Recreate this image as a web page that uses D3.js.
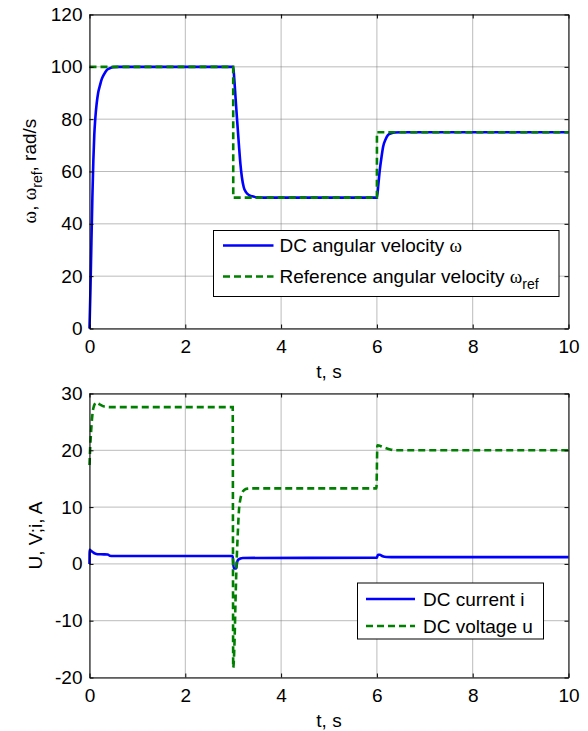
<!DOCTYPE html>
<html>
<head>
<meta charset="utf-8">
<script src="https://cdn.jsdelivr.net/npm/d3@7"></script>
<style>
  body { margin: 0; background: #fff; }
  svg text { font-family: "Liberation Sans", Arial, sans-serif; fill: #000; }
</style>
</head>
<body>
<div id="chart"></div>
<script>
// shared time axis
const timeTicks = [0, 2, 4, 6, 8, 10]

// top panel: angular velocity (rad/s)
const omegaTicks = [0, 20, 40, 60, 80, 100, 120]
const omegaTime = [0, 0.02, 0.04, 0.06, 0.08, 0.1, 0.12, 0.15, 0.18, 0.22, 0.25, 0.3, 0.36, 0.42, 0.5, 0.6, 0.8,
                   3.0, 3.02, 3.05, 3.08, 3.12, 3.15, 3.18, 3.22, 3.27, 3.33, 3.4, 3.5, 3.6,
                   6.0, 6.03, 6.06, 6.1, 6.13, 6.18, 6.23, 6.3, 6.37, 6.5, 10]
const omegaValues = [0, 15, 33, 50, 64, 74, 80, 86, 90, 93, 95, 97, 98.7, 99.4, 99.9, 100, 100,
                     100, 96, 88, 80, 70, 63, 58, 54, 52, 51, 50.5, 50.1, 50,
                     50, 55, 60.5, 66, 69.5, 72.2, 73.9, 74.6, 74.9, 75, 75]
const refTime = [0, 3, 3.001, 6, 6.001, 10]
const refValues = [100, 100, 50, 50, 75, 75]

// bottom panel: current (A) and voltage (V)
const elecTicks = [-20, -10, 0, 10, 20, 30]
const currentTime = [0, 0.003, 0.04, 0.08, 0.12, 0.17, 0.3, 0.38, 0.42, 0.5, 2.99,
                     3.01, 3.06, 3.08, 3.1, 3.15, 3.2, 6.0, 6.02, 6.06, 6.12, 6.2, 6.3, 10]
const currentValues = [0, 2.5, 2.25, 2.0, 1.8, 1.7, 1.68, 1.65, 1.45, 1.4, 1.4,
                       -0.75, -0.8, 0.2, 0.7, 0.95, 1.05, 1.07, 1.6, 1.6, 1.35, 1.22, 1.2, 1.2]
const voltageTime = [0, 0.015, 0.035, 0.055, 0.08, 0.14, 0.21, 0.31, 0.42, 2.99,
                     3.0, 3.03, 3.05, 3.07, 3.09, 3.12, 3.15, 3.18, 3.23, 3.3, 3.4, 5.99,
                     6.01, 6.12, 6.26, 6.4, 10]
const voltageValues = [17.4, 20.6, 23.5, 25.8, 27.4, 28.4, 28.1, 27.7, 27.6, 27.6,
                       -18.3, -13, -6, 0, 4.2, 9.4, 11.4, 12.4, 13.0, 13.25, 13.3, 13.3,
                       20.9, 20.6, 20.2, 20.0, 20.0]

const W = 588, H = 731
const fontSize = 19
const blue = "#0000ff", green = "#008000"

const svg = d3.select("#chart").append("svg")
  .attr("width", W)
  .attr("height", H)

function drawPanel(opts) {
  const g = svg.append("g").attr("transform", `translate(${opts.left},${opts.top})`)
  const x = d3.scaleLinear().domain([0, 10]).range([0, opts.w])
  const y = d3.scaleLinear().domain(opts.yDomain).range([opts.h, 0])

  // dotted grid
  g.append("g").selectAll("line").data(timeTicks).join("line")
    .attr("x1", d => x(d)).attr("x2", d => x(d))
    .attr("y1", 0).attr("y2", opts.h)
    .attr("stroke", "#777").attr("stroke-width", 1).attr("stroke-dasharray", "1,1")
  g.append("g").selectAll("line").data(opts.yTicks).join("line")
    .attr("x1", 0).attr("x2", opts.w)
    .attr("y1", d => y(d)).attr("y2", d => y(d))
    .attr("stroke", "#777").attr("stroke-width", 1).attr("stroke-dasharray", "1,1")

  // series
  opts.series.forEach(s => {
    const pts = s.t.map((t, i) => [t, s.v[i]])
    const line = d3.line()
      .x(d => x(d[0]))
      .y(d => y(d[1]))
      .curve(s.step ? d3.curveLinear : d3.curveMonotoneX)
    g.append("path")
      .datum(pts)
      .attr("fill", "none")
      .attr("stroke", s.color)
      .attr("stroke-width", 2.6)
      .attr("stroke-dasharray", s.dash || null)
      .attr("d", line)
  })

  // axes, ticks pointing inward on all four sides
  const styleAxis = sel => {
    sel.select(".domain").attr("stroke", "#000")
    sel.selectAll(".tick line").attr("stroke", "#000")
    sel.selectAll("text").style("font-size", fontSize + "px").attr("fill", "#000")
  }
  const plain = d => String(d)   // keep hyphen-minus like the original
  g.append("g").attr("transform", `translate(0,${opts.h})`)
    .call(d3.axisBottom(x).tickValues(timeTicks).tickFormat(plain).tickSize(-4).tickPadding(11).tickSizeOuter(0))
    .call(styleAxis)
  g.append("g")
    .call(d3.axisTop(x).tickValues(timeTicks).tickSize(-4).tickFormat("").tickSizeOuter(0))
    .call(styleAxis)
  g.append("g")
    .call(d3.axisLeft(y).tickValues(opts.yTicks).tickFormat(plain).tickSize(-4).tickPadding(7).tickSizeOuter(0))
    .call(styleAxis)
  g.append("g").attr("transform", `translate(${opts.w},0)`)
    .call(d3.axisRight(y).tickValues(opts.yTicks).tickSize(-4).tickFormat("").tickSizeOuter(0))
    .call(styleAxis)

  // x label
  g.append("text")
    .attr("x", opts.w / 2)
    .attr("y", opts.h + 49)
    .attr("text-anchor", "middle")
    .style("font-size", fontSize + "px")
    .text("t, s")

  // legend
  const lg = g.append("g").attr("transform", `translate(${opts.legend.x - opts.left},${opts.legend.y - opts.top})`)
  lg.append("rect")
    .attr("width", opts.legend.w).attr("height", opts.legend.h)
    .attr("fill", "#fff").attr("stroke", "#000").attr("stroke-width", 1)
  opts.series.forEach((s, i) => {
    const ly = opts.legend.rows[i]
    lg.append("line")
      .attr("x1", opts.legend.lineX[0]).attr("x2", opts.legend.lineX[1])
      .attr("y1", ly).attr("y2", ly)
      .attr("stroke", s.color).attr("stroke-width", 2.6)
      .attr("stroke-dasharray", s.dash || null)
    const txt = lg.append("text")
      .attr("x", opts.legend.textX).attr("y", ly).attr("dy", "0.35em")
      .style("font-size", fontSize + "px")
    s.label(txt)
  })
  return g
}

// top panel
drawPanel({
  left: 89.5, top: 14.5, w: 479, h: 314,
  yDomain: [0, 120], yTicks: omegaTicks,
  series: [
    { t: omegaTime, v: omegaValues, color: blue,
      label: t => { t.append("tspan").text("DC angular velocity ");
                    t.append("tspan").style("font-family", "'Liberation Serif', serif").text("ω") } },
    { t: refTime, v: refValues, color: green, dash: "7,4", step: true,
      label: t => { t.append("tspan").text("Reference angular velocity ");
                    t.append("tspan").style("font-family", "'Liberation Serif', serif").text("ω");
                    t.append("tspan").attr("dy", "0.45em").style("font-size", "14px").text("ref") } }
  ],
  legend: { x: 213.5, y: 230.5, w: 345.5, h: 66, rows: [15, 46], lineX: [9.5, 60], textX: 66 }
})

// bottom panel
drawPanel({
  left: 89.5, top: 393.5, w: 479, h: 284,
  yDomain: [-20, 30], yTicks: elecTicks,
  series: [
    { t: currentTime, v: currentValues, color: blue,
      label: t => t.text("DC current i") },
    { t: voltageTime, v: voltageValues, color: green, dash: "7,4",
      label: t => t.text("DC voltage u") }
  ],
  legend: { x: 357.5, y: 583, w: 186, h: 56, rows: [16, 43], lineX: [8.5, 57.5], textX: 65.5 }
})

// y labels
const yl1 = svg.append("text")
  .attr("transform", "translate(36,171) rotate(-90)")
  .attr("text-anchor", "middle")
  .style("font-size", fontSize + "px")
yl1.append("tspan").style("font-family", "'Liberation Serif', serif").text("ω")
yl1.append("tspan").text(", ")
yl1.append("tspan").style("font-family", "'Liberation Serif', serif").text("ω")
yl1.append("tspan").attr("dy", "0.45em").style("font-size", "14px").text("ref")
yl1.append("tspan").attr("dy", "-0.33em").text(", rad/s")

svg.append("text")
  .attr("transform", "translate(42,535.5) rotate(-90)")
  .attr("text-anchor", "middle")
  .style("font-size", fontSize + "px")
  .text("U, V;i, A")
</script>
</body>
</html>
